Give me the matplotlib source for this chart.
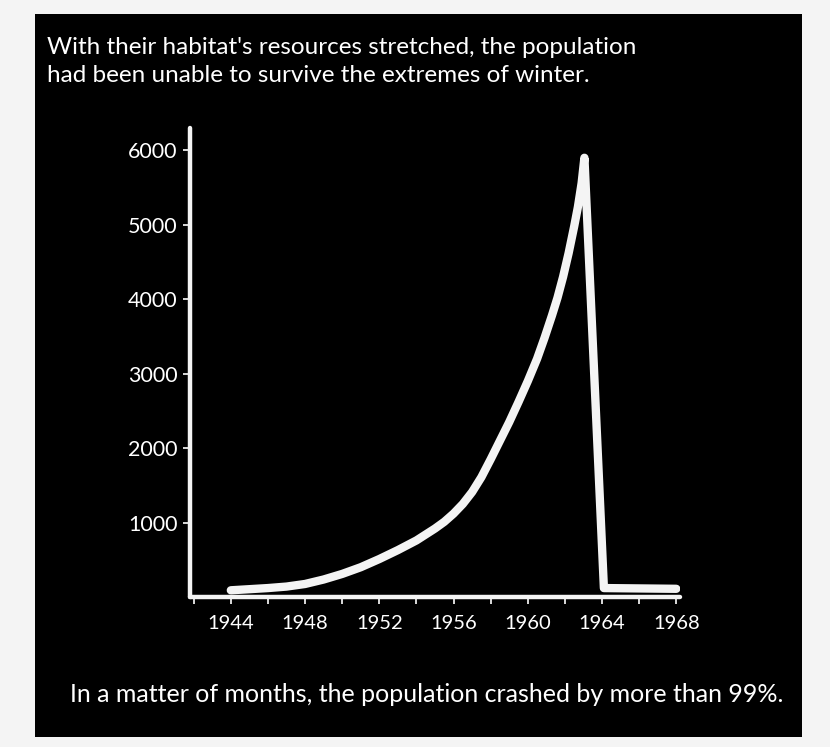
# Reindeer population boom and crash chart (St. Matthew Island style)

import matplotlib.pyplot as plt
from matplotlib.patches import Rectangle
from matplotlib.ticker import MultipleLocator

plt.rcParams['font.family'] = ['Lato', 'DejaVu Sans']

# Population
years = [1944, 1945, 1946, 1947, 1948, 1949, 1950, 1951, 1952, 1953, 1954,
         1955, 1955.5, 1956, 1956.5, 1957, 1957.5, 1958, 1958.5, 1959, 1959.5,
         1960, 1960.5, 1960.9, 1961.3, 1961.6, 1961.9, 1962.2, 1962.5,
         1962.7, 1962.9, 1963.05, 1964.1, 1968]
population = [90, 105, 120, 140, 175, 235, 310, 400, 510, 630, 760,
              920, 1010, 1120, 1250, 1410, 1610, 1850, 2100, 2350, 2620,
              2900, 3200, 3480, 3780, 4020, 4300, 4620, 4980,
              5240, 5560, 5900, 120, 110]

year_ticks = [1944, 1948, 1952, 1956, 1960, 1964, 1968]
pop_ticks = [1000, 2000, 3000, 4000, 5000, 6000]

title_text = ("With their habitat's resources stretched, the population\n"
              "had been unable to survive the extremes of winter.")
footer_text = "In a matter of months, the population crashed by more than 99%."

W, H = 830, 747
fig = plt.figure(figsize=(W / 100, H / 100), dpi=100, facecolor='#f4f4f4')

# black panel
fig.patches.append(Rectangle((35 / W, 1 - 737 / H), (802 - 35) / W, (737 - 14) / H,
                             transform=fig.transFigure, facecolor='black',
                             edgecolor='none', zorder=-10))

ax = fig.add_axes([190 / W, 1 - 597 / H, (680 - 190) / W, (597 - 128) / H])
ax.set_zorder(5)
ax.set_facecolor('black')

ax.plot(years, population, color='#f4f4f4', linewidth=6,
        solid_capstyle='round', solid_joinstyle='round', zorder=3)

ax.set_xlim(1941.8, 1968.2)
ax.set_ylim(0, 6300)

for side in ['top', 'right']:
    ax.spines[side].set_visible(False)
for side in ['left', 'bottom']:
    ax.spines[side].set_color('#f4f4f4')
    ax.spines[side].set_linewidth(3.2)
    ax.spines[side].set_capstyle('round')

ax.set_xticks(year_ticks)
ax.xaxis.set_minor_locator(MultipleLocator(2))
ax.set_yticks(pop_ticks)
ax.tick_params(axis='both', which='both', colors='white', width=1.2)
ax.tick_params(axis='x', which='major', length=5, pad=8, labelsize=14.5)
ax.tick_params(axis='x', which='minor', length=5)
ax.tick_params(axis='y', length=5, pad=4, labelsize=15.5)

fig.text(47 / W, 1 - 37 / H, title_text, color='white', fontsize=17.5,
         ha='left', va='top', linespacing=1.4)
fig.text(427 / W, 1 - 695 / H, footer_text, color='white', fontsize=18,
         ha='center', va='center')

fig.savefig('out.png', dpi=100, facecolor=fig.get_facecolor())
